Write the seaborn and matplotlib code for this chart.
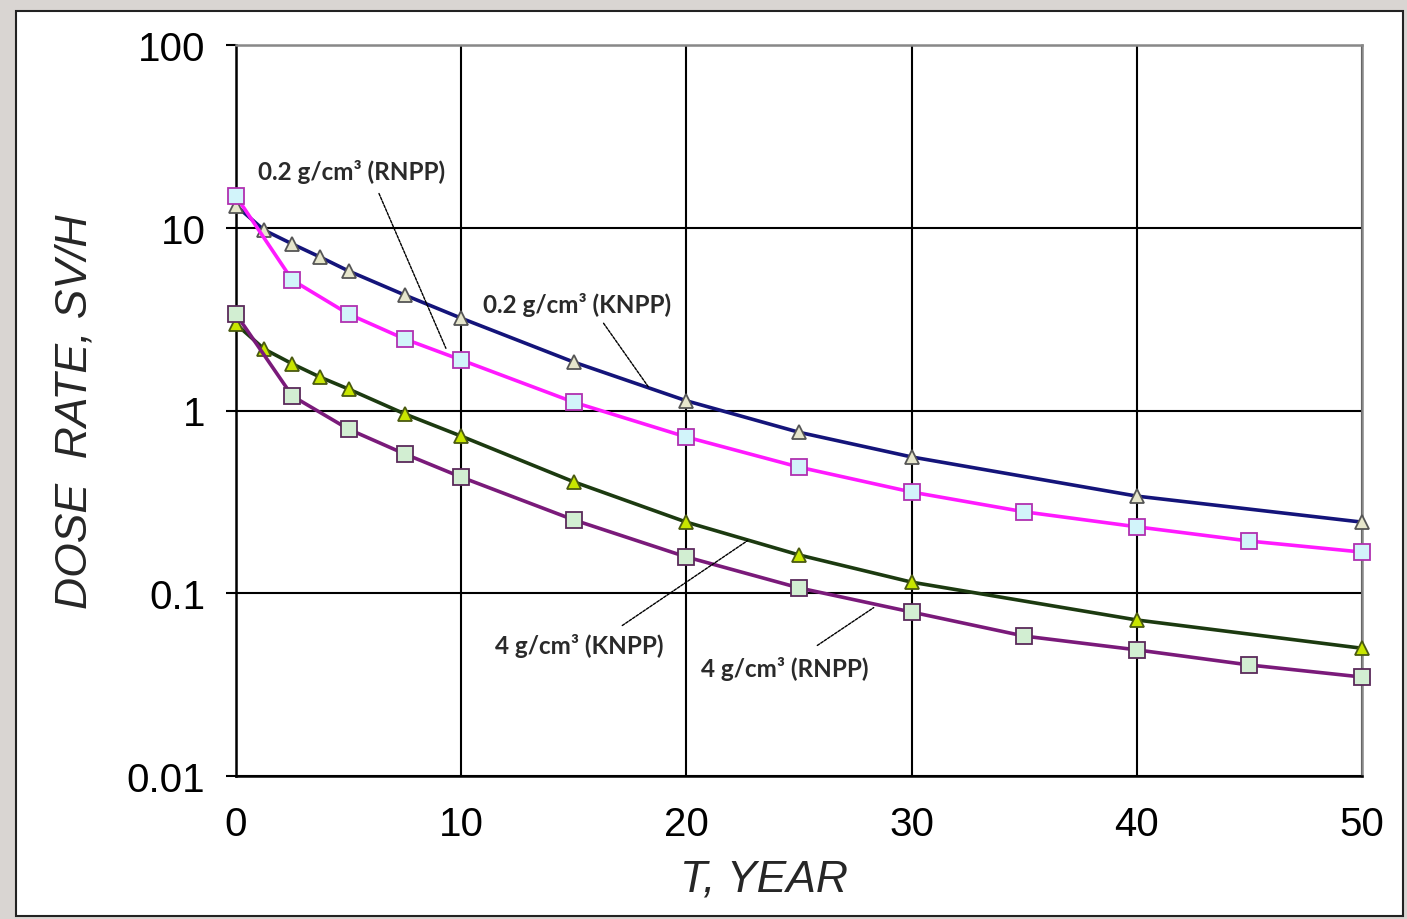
import numpy as np
import pandas as pd
import matplotlib
matplotlib.use("Agg")
import matplotlib.pyplot as plt
import matplotlib.patches as mpatches
from matplotlib.ticker import FixedLocator, FixedFormatter
import seaborn as sns

# ---- data ----
t_knpp = [0, 1.25, 2.5, 3.75, 5, 7.5, 10, 15, 20, 25, 30, 40, 50]
d02_knpp = [13.2, 9.7, 8.15, 6.9, 5.8, 4.28, 3.2, 1.84, 1.13, 0.76, 0.557, 0.34, 0.245]
d4_knpp = [2.97, 2.17, 1.80, 1.52, 1.31, 0.957, 0.724, 0.407, 0.245, 0.162, 0.115, 0.0714, 0.050]

t_rnpp = [0, 2.5, 5, 7.5, 10, 15, 20, 25, 30, 35, 40, 45, 50]
d02_rnpp = [14.9, 5.17, 3.37, 2.46, 1.89, 1.11, 0.716, 0.49, 0.358, 0.279, 0.231, 0.193, 0.168]
d4_rnpp = [3.37, 1.20, 0.79, 0.578, 0.432, 0.252, 0.158, 0.107, 0.0789, 0.0583, 0.049, 0.0405, 0.0348]

x_ticks = [0, 10, 20, 30, 40, 50]
y_ticks = [0.01, 0.1, 1, 10, 100]
y_tick_labels = ["0.01", "0.1", "1", "10", "100"]

labels = ["0.2 g/cm³ (RNPP)", "0.2 g/cm³ (KNPP)", "4 g/cm³ (KNPP)", "4 g/cm³ (RNPP)"]

sns.set_style("white")
plt.rcParams["font.family"] = ["Liberation Sans", "DejaVu Sans"]

fig = plt.figure(figsize=(14.07, 9.2), dpi=100)
fig.patch.set_facecolor("#d9d5d2")
# white framed panel
W, H = 1407, 920
panel = mpatches.Rectangle((16 / W, 3 / H), (1403 - 16) / W, (908 - 3) / H,
                           transform=fig.transFigure, facecolor="white",
                           edgecolor="#222222", linewidth=1.5, zorder=-10)
fig.patches.append(panel)

ax = fig.add_axes([236 / W, 1 - 777 / H, (1362 - 236) / W, (777 - 46) / H])
ax.set_zorder(5)
ax.set_facecolor("white")

series = [
    (t_knpp, d02_knpp, "#14147a", "^", 10.5, "#e6e6cc", "#555555"),
    (t_rnpp, d02_rnpp, "#ff1aff", "s", 12, "#d2f4fa", "#b030b0"),
    (t_knpp, d4_knpp, "#1c3a10", "^", 10.5, "#c8e600", "#4a5a10"),
    (t_rnpp, d4_rnpp, "#7a1a7a", "s", 12, "#d2eed2", "#5a2a5a"),
]
for tx, dy, col, mk, ms, mfc, mec in series:
    df = pd.DataFrame({"t": tx, "dose": dy})
    sns.lineplot(data=df, x="t", y="dose", ax=ax, color=col, linewidth=2.6,
                 marker=mk, markersize=ms, markerfacecolor=mfc,
                 markeredgecolor=mec, markeredgewidth=1.3, zorder=3,
                 clip_on=False)

ax.set_yscale("log")
ax.set_xlim(0, 50)
ax.set_ylim(0.01, 100)
ax.xaxis.set_major_locator(FixedLocator(x_ticks))
ax.yaxis.set_major_locator(FixedLocator(y_ticks))
ax.yaxis.set_major_formatter(FixedFormatter(y_tick_labels))
ax.yaxis.set_minor_locator(FixedLocator([]))
ax.grid(True, which="major", color="black", linewidth=1.5, zorder=1)
ax.set_axisbelow(True)

for s in ["left", "bottom"]:
    ax.spines[s].set_color("black")
    ax.spines[s].set_linewidth(1.8)
for s in ["top", "right"]:
    ax.spines[s].set_color("#888888")
    ax.spines[s].set_linewidth(1.8)

ax.tick_params(axis="y", direction="out", length=7, width=1.5, pad=15,
               labelsize=29, left=True, colors="black")
ax.tick_params(axis="x", length=0, pad=21, labelsize=29, colors="black")

ax.set_xlabel("T, YEAR", fontsize=32, fontstyle="italic")
ax.set_ylabel("DOSE  RATE, SV/H", fontsize=32, fontstyle="italic")
ax.xaxis.set_label_coords((764 - 236) / 1126, -(880 - 777) / 731, transform=ax.transAxes)
ax.xaxis.label.set_va("center")
ax.yaxis.set_label_coords((75 - 236) / 1126, 0.5, transform=ax.transAxes)
ax.yaxis.label.set_va("center")

# annotations
ann_font = dict(fontsize=17.5, fontweight="bold", color="#2a2a2a",
                family=["Lato", "DejaVu Sans"], va="center", ha="left")
lead = dict(arrowstyle="-", color="black", linewidth=1.0, linestyle=(0, (2, 1)))

ax.text(0.98, 20.4, labels[0], **ann_font)
ax.annotate("", xy=(9.37, 2.12), xytext=(6.3, 15.9), arrowprops=lead)

ax.text(10.97, 3.83, labels[1], **ann_font)
ax.annotate("", xy=(18.38, 1.31), xytext=(16.25, 3.09), arrowprops=lead)

ax.text(11.5, 0.0521, labels[2], **ann_font)
ax.annotate("", xy=(22.82, 0.198), xytext=(17.05, 0.0653), arrowprops=lead)

ax.text(20.65, 0.039, labels[3], **ann_font)
ax.annotate("", xy=(28.42, 0.0851), xytext=(25.71, 0.0508), arrowprops=lead)

fig.savefig("out.png", dpi=100, facecolor=fig.get_facecolor())
